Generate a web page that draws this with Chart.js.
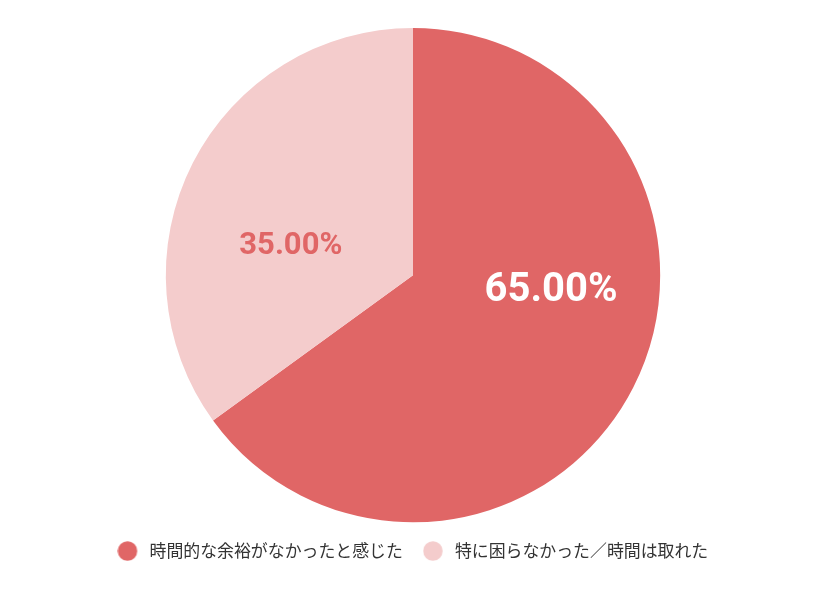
<!DOCTYPE html>
<html>
<head>
<meta charset="utf-8">
<script src="https://cdn.jsdelivr.net/npm/chart.js@4/dist/chart.umd.min.js"></script>
<style>
  html, body { margin: 0; padding: 0; background: #fff; }
  #wrap { width: 840px; height: 597px; }
</style>
</head>
<body>
<div id="wrap"><canvas id="chart"></canvas></div>
<script>
const categories = ['時間的な余裕がなかったと感じた', '特に困らなかった／時間は取れた'];
const shares = [65, 35];
const sliceColors = ['#E06666', '#F4CCCC'];
const labelColors = ['#ffffff', '#E06666'];
const labelSizes = [40, 31];
// label anchor: angle offset from slice middle (rad) and radius fraction
const labelAnchors = [
  { angle: -0.356, r: 0.562 },
  { angle: -0.238, r: 0.508 }
];

// legend marker drawn as a small canvas so the gap to the text matches
function makeDot(color) {
  const c = document.createElement('canvas');
  c.width = 24;
  c.height = 20;
  const g = c.getContext('2d');
  g.fillStyle = color;
  g.beginPath();
  g.arc(10.1, 10, 9.75, 0, Math.PI * 2);
  g.fill();
  return c;
}
const dots = sliceColors.map(makeDot);

const sliceLabels = {
  id: 'sliceLabels',
  afterDatasetsDraw(chart) {
    const ctx = chart.ctx;
    const meta = chart.getDatasetMeta(0);
    meta.data.forEach((arc, i) => {
      const mid = (arc.startAngle + arc.endAngle) / 2 + labelAnchors[i].angle;
      const dist = arc.outerRadius * labelAnchors[i].r;
      const x = arc.x + Math.cos(mid) * dist;
      const y = arc.y + Math.sin(mid) * dist;
      ctx.save();
      ctx.font = 'bold ' + labelSizes[i] + 'px Roboto, sans-serif';
      ctx.fillStyle = labelColors[i];
      ctx.textAlign = 'center';
      ctx.textBaseline = 'middle';
      ctx.fillText(shares[i].toFixed(2) + '%', x, y);
      ctx.restore();
    });
  }
};

new Chart(document.getElementById('chart'), {
  type: 'pie',
  data: {
    labels: categories,
    datasets: [{
      data: shares,
      backgroundColor: sliceColors,
      borderWidth: 0
    }]
  },
  options: {
    responsive: true,
    maintainAspectRatio: false,
    animation: false,
    layout: { padding: { top: 28, bottom: 27.5, left: 0, right: 14 } },
    plugins: {
      tooltip: { enabled: false },
      legend: {
        position: 'bottom',
        labels: {
          usePointStyle: true,
          pointStyleWidth: 23.3,
          padding: 20.25,
          color: '#333',
          font: { size: 16.9, family: '"Noto Sans CJK JP", sans-serif' },
          generateLabels(chart) {
            const items = Chart.controllers.pie.overrides.plugins.legend.labels.generateLabels(chart);
            items.forEach((it, i) => { it.pointStyle = dots[i]; });
            return items;
          }
        }
      }
    }
  },
  plugins: [sliceLabels]
});
</script>
</body>
</html>
